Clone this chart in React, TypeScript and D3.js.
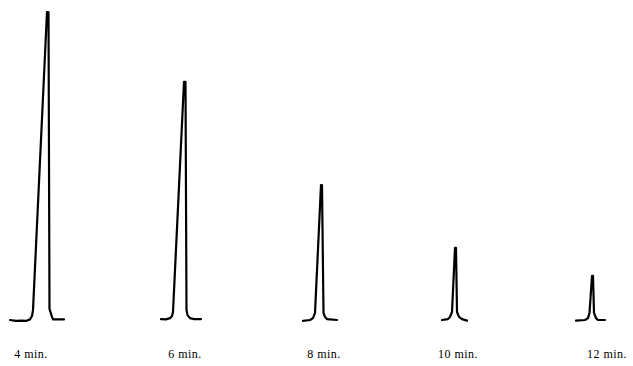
import React from "react";
import * as d3 from "d3";

// Retention positions of each recorded peak (trace units along the chart paper)
const peakCenters = [47.5, 184.5, 321.5, 455.5, 592.5];
const labels = ["4 min.", "6 min.", "8 min.", "10 min.", "12 min."];
const labelCenters = [31, 185, 324, 458, 607];

// Each trace: [offset from peak center, detector signal (0-100)]
const trace4 = [[-37.5,0],[-31.5,-0.3],[-25.5,-0.2],[-21.5,-0.3],[-17.5,0.2],[-15.5,1.3],[-14.5,3.2],[-0.5,100],[1,100],[2,3.6],[3,2.6],[4.5,1],[5.5,0.2],[16.5,0.2]];
const trace6 = [[-23.5,0.3],[-18.5,0.2],[-14.5,0.6],[-12.5,1.3],[-11.5,2.6],[-0.5,77.3],[1,77.3],[2,3.2],[3,1.6],[5.5,0.6],[9.5,0.3],[16.5,0.3]];
const trace8 = [[-18.5,-0.3],[-11.5,0],[-8.5,0.6],[-6.5,2.3],[-0.5,43.8],[0.5,43.8],[2,2.3],[3.5,1],[5.5,0.3],[8.5,0.2],[15.5,0]];
const trace10 = [[-13.5,0],[-7.5,0.3],[-5.5,1],[-3.5,2.6],[-0.5,23.4],[0.5,23.4],[1.5,2.6],[3.5,1],[6.5,0.3],[11.5,-0.2]];
const trace12 = [[-16.5,-0.2],[-7.5,0],[-4.5,0.6],[-3,2.3],[-0.5,14.3],[0.5,14.3],[1.5,2.3],[3.5,0.6],[5.5,0],[12.5,0]];
const traces = [trace4, trace6, trace8, trace10, trace12];

const W = 633, H = 366;

export default function App() {
  const x = d3.scaleLinear().domain([0, 633]).range([0, W]);
  const y = d3.scaleLinear().domain([0, 100]).range([320, 12]);

  return (
    <svg width={W} height={H} style={{ position: "absolute", left: 0, top: 0, background: "#fff" }}>
      <rect width={W} height={H} fill="#fff" />
      {traces.map((tr, i) => {
        const line = d3.line<number[]>()
          .x((d) => x(peakCenters[i] + d[0]))
          .y((d) => y(d[1]))
          .curve(d3.curveLinear);
        return (
          <path key={i} d={line(tr) || ""} fill="none" stroke="#000" strokeWidth={2.2}
            strokeLinejoin="round" strokeLinecap="round" />
        );
      })}
      {labels.map((l, i) => (
        <text key={l} x={x(labelCenters[i])} y={358} textAnchor="middle"
          fontFamily="Liberation Serif, serif" fontSize={12} letterSpacing={0.5} fill="#000">{l}</text>
      ))}
    </svg>
  );
}
